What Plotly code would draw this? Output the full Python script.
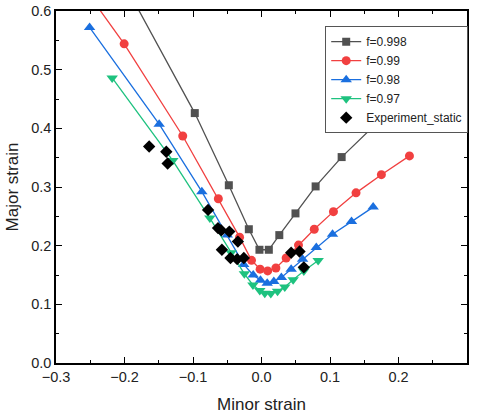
import plotly.graph_objects as go

# f = 0.998 (last point hidden behind legend, first beyond top of axis)
x_998 = [-0.200, -0.0974, -0.0477, -0.0185, -0.003, 0.0107, 0.026, 0.0496, 0.079, 0.117, 0.1625, 0.212]
y_998 = [0.646, 0.426, 0.303, 0.228, 0.193, 0.193, 0.218, 0.255, 0.301, 0.351, 0.403, 0.458]

# f = 0.99
x_99 = [-0.270, -0.2005, -0.115, -0.063, -0.032, -0.0146, -0.002, 0.009, 0.021, 0.036, 0.054, 0.077, 0.105, 0.138, 0.175, 0.216]
y_99 = [0.657, 0.544, 0.387, 0.280, 0.2145, 0.175, 0.160, 0.157, 0.162, 0.179, 0.201, 0.228, 0.258, 0.290, 0.321, 0.353]

# f = 0.98
x_98 = [-0.251, -0.1494, -0.0871, -0.050, -0.026, -0.0121, -0.0015, 0.0083, 0.018, 0.029, 0.0433, 0.060, 0.080, 0.1037, 0.1314, 0.163]
y_98 = [0.572, 0.407, 0.292, 0.218, 0.168, 0.150, 0.141, 0.136, 0.1388, 0.1456, 0.160, 0.177, 0.197, 0.2196, 0.241, 0.2657]

# f = 0.97
x_97 = [-0.218, -0.1295, -0.0754, -0.0443, -0.025, -0.0125, -0.0025, 0.0048, 0.0136, 0.0234, 0.034, 0.0462, 0.0618, 0.0827]
y_97 = [0.486, 0.345, 0.247, 0.188, 0.152, 0.133, 0.1235, 0.119, 0.1183, 0.1223, 0.1297, 0.142, 0.157, 0.1746]

# Experiment_static
x_exp = [-0.164, -0.139, -0.137, -0.078, -0.0635, -0.0587, -0.047, -0.0345, -0.0578, -0.0453, -0.0355, -0.0258, 0.0433, 0.0555, 0.0618]
y_exp = [0.369, 0.360, 0.340, 0.261, 0.230, 0.226, 0.224, 0.207, 0.193, 0.179, 0.177, 0.179, 0.188, 0.190, 0.163]

x_ticks = [-0.3, -0.2, -0.1, 0.0, 0.1, 0.2, 0.3]
x_ticklabels = ["\u22120.3", "\u22120.2", "\u22120.1", "0.0", "0.1", "0.2", "0.3"]
y_ticks = [0.0, 0.1, 0.2, 0.3, 0.4, 0.5, 0.6]
y_ticklabels = ["0.0", "0.1", "0.2", "0.3", "0.4", "0.5", "0.6"]

FONT = "Arial, 'Liberation Sans', sans-serif"

fig = go.Figure()

series = [
    ("f=0.998", x_998, y_998, "#515151", "square", 8),
    ("f=0.99", x_99, y_99, "#F14040", "circle", 9),
    ("f=0.98", x_98, y_98, "#1A6FDF", "triangle-up", 10),
    ("f=0.97", x_97, y_97, "#1EC27F", "triangle-down", 10),
]
for name, xs, ys, col, sym, sz in series:
    fig.add_trace(go.Scatter(
        x=xs, y=ys, name=name, mode="lines+markers",
        line=dict(color=col, width=1.3),
        marker=dict(color=col, symbol=sym, size=sz, line=dict(width=0)),
    ))

fig.add_trace(go.Scatter(
    x=x_exp, y=y_exp, name="Experiment_static", mode="markers",
    marker=dict(color="black", symbol="diamond", size=9.5, line=dict(width=0)),
))

axis_common = dict(
    showline=True, linecolor="black", linewidth=1.5, mirror="ticks",
    ticks="inside", ticklen=6, tickwidth=1.3, tickcolor="black",
    showgrid=False, zeroline=False,
    tickfont=dict(family=FONT, size=14.5, color="#222"),
    minor=dict(ticks="inside", ticklen=3, tickwidth=1.2, tickcolor="black", showgrid=False),
)

fig.update_xaxes(
    range=[-0.3, 0.3], tickvals=x_ticks, ticktext=x_ticklabels,
    minor_dtick=0.05,
    title=dict(text="Minor strain", font=dict(family=FONT, size=17, color="#222"), standoff=14),
    **axis_common,
)
fig.update_yaxes(
    range=[0.0, 0.6], tickvals=y_ticks, ticktext=y_ticklabels,
    minor_dtick=0.05,
    title=dict(text="Major strain", font=dict(family=FONT, size=17, color="#222"), standoff=8),
    **axis_common,
)

fig.update_layout(
    width=477, height=417,
    margin=dict(l=56, r=10, t=11, b=54, autoexpand=False),
    paper_bgcolor="white", plot_bgcolor="white",
    font=dict(family=FONT, color="#222"),
    showlegend=True,
    legend=dict(
        x=0.655, y=0.957, xanchor="left", yanchor="top",
        bgcolor="white", bordercolor="#555", borderwidth=1,
        font=dict(family=FONT, size=12, color="#222"),
        itemwidth=30, tracegroupgap=0,
    ),
)

fig.write_html("out.html")
